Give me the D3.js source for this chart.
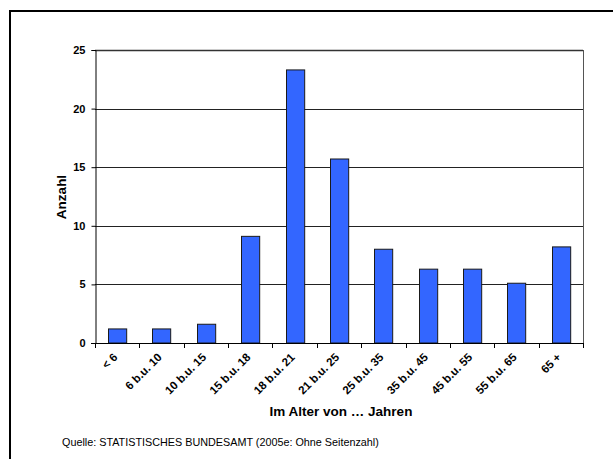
<!DOCTYPE html>
<html>
<head>
<meta charset="utf-8">
<script src="https://cdn.jsdelivr.net/npm/d3@7"></script>
<style>
  html, body { margin: 0; padding: 0; background: #fff; }
  svg { display: block; }
  text { font-family: "Liberation Sans", Arial, sans-serif; }
</style>
</head>
<body>
<svg id="chart" width="613" height="459"></svg>
<script>
// Altersgruppen und Anzahl
const categories = ["< 6", "6 b.u. 10", "10 b.u. 15", "15 b.u. 18", "18 b.u. 21", "21 b.u. 25",
                    "25 b.u. 35", "35 b.u. 45", "45 b.u. 55", "55 b.u. 65", "65 +"];
const values = [1.2, 1.2, 1.6, 9.1, 23.3, 15.7, 8.0, 6.3, 6.3, 5.1, 8.2];
const yTicks = [0, 5, 10, 15, 20, 25];

const svg = d3.select("#chart");
const plot = { left: 95, top: 50, right: 583, bottom: 343 };

// outer frame (top and left edges)
svg.append("path")
  .attr("d", "M10,459 L10,11 L613,11")
  .attr("fill", "none").attr("stroke", "#000").attr("stroke-width", 2);

const x = d3.scaleBand().domain(categories).range([plot.left, plot.right]).paddingInner(0.59).paddingOuter(0.295);
const y = d3.scaleLinear().domain([0, 25]).range([plot.bottom, plot.top]);

// horizontal gridlines
svg.append("g").selectAll("line").data(yTicks.filter(d => d > 0)).join("line")
  .attr("x1", plot.left).attr("x2", plot.right)
  .attr("y1", d => Math.round(y(d)) + 0.5).attr("y2", d => Math.round(y(d)) + 0.5)
  .attr("stroke", d => d === 25 ? "#333" : "#222")
  .attr("stroke-width", d => d === 25 ? 1.6 : 1);

// right border of plot area
svg.append("line")
  .attr("x1", plot.right + 0.5).attr("x2", plot.right + 0.5)
  .attr("y1", plot.top).attr("y2", plot.bottom)
  .attr("stroke", "#555").attr("stroke-width", 1);

// bars
svg.append("g").selectAll("rect").data(values).join("rect")
  .attr("x", (d, i) => Math.round(x(categories[i])) + 0.5)
  .attr("y", d => y(d))
  .attr("width", x.bandwidth())
  .attr("height", d => plot.bottom - y(d))
  .attr("fill", "#3366FF")
  .attr("stroke", "#1a1a1a").attr("stroke-width", 1);

// y axis
const yAxis = d3.axisLeft(y).tickValues(yTicks).tickSize(4).tickPadding(6);
const gy = svg.append("g").attr("transform", `translate(${plot.left + 0.5},0)`).call(yAxis);
gy.select(".domain").attr("stroke", "#000");
gy.selectAll(".tick line").attr("stroke", "#000");
gy.selectAll(".tick text")
  .attr("font-size", 11).attr("font-weight", "bold").attr("fill", "#000")
  .style("font-family", "'Liberation Sans', Arial, sans-serif");

// x axis: baseline and tick marks at category boundaries
const step = x.step();
const bounds = d3.range(categories.length + 1).map(i => plot.left + i * step);
svg.append("line")
  .attr("x1", plot.left - 4).attr("x2", plot.right + 1)
  .attr("y1", plot.bottom + 0.5).attr("y2", plot.bottom + 0.5)
  .attr("stroke", "#000");
svg.append("g").selectAll("line").data(bounds).join("line")
  .attr("x1", d => Math.round(d) + 0.5).attr("x2", d => Math.round(d) + 0.5)
  .attr("y1", plot.bottom).attr("y2", plot.bottom + 5)
  .attr("stroke", "#000");

// rotated category labels
svg.append("g").selectAll("text").data(categories).join("text")
  .attr("transform", d => `translate(${x(d) + x.bandwidth() / 2 + 1},${plot.bottom + 15}) rotate(-45)`)
  .attr("text-anchor", "end")
  .attr("font-size", 11.5).attr("font-weight", "bold").attr("fill", "#000")
  .text(d => d);

// axis titles
svg.append("text")
  .attr("transform", `translate(66,197) rotate(-90)`)
  .attr("text-anchor", "middle")
  .attr("font-size", 13.5).attr("font-weight", "bold")
  .text("Anzahl");

svg.append("text")
  .attr("x", (plot.left + plot.right) / 2 + 2).attr("y", 416)
  .attr("text-anchor", "middle")
  .attr("font-size", 13.5).attr("font-weight", "bold")
  .text("Im Alter von … Jahren");

// source note
svg.append("text")
  .attr("x", 62).attr("y", 446)
  .attr("font-size", 10.8)
  .text("Quelle: STATISTISCHES BUNDESAMT (2005e: Ohne Seitenzahl)");
</script>
</body>
</html>
